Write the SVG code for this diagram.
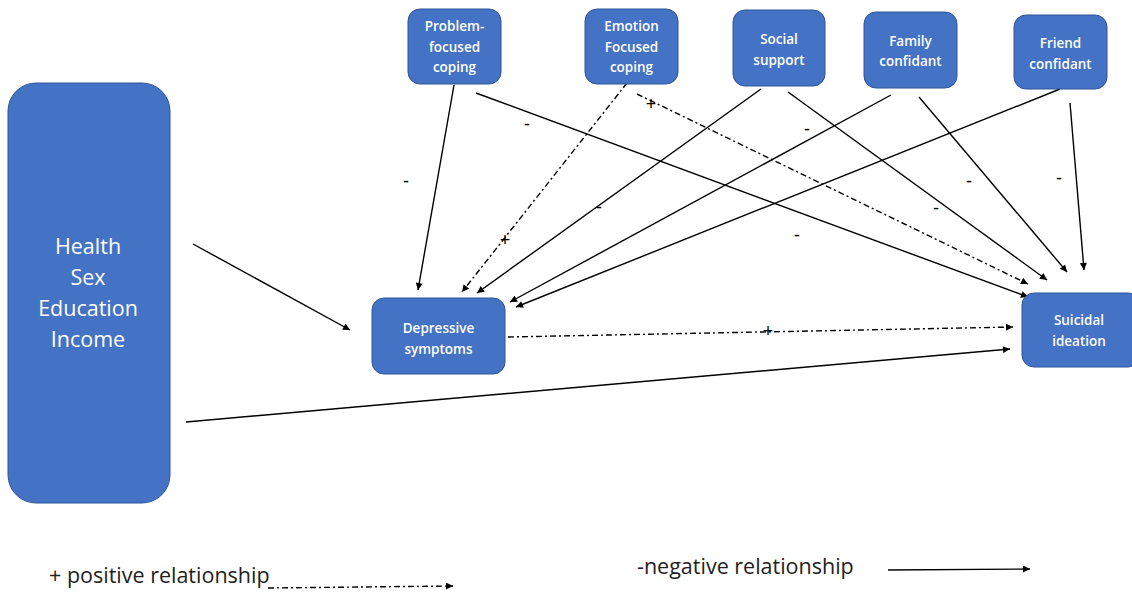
<svg xmlns="http://www.w3.org/2000/svg" width="1132" height="593" viewBox="0 0 1132 593">
  <style>
    .box { fill: #4472C4; stroke: #2F5597; stroke-width: 1; }
    .lbl { font-family: "Open Sans", "Noto Sans", sans-serif; font-size: 13.5px; font-weight: 600; fill: #FFFFFF; text-anchor: middle; }
    .big { font-family: "Open Sans", "Noto Sans", sans-serif; font-size: 21.5px; fill: #FFFFFF; text-anchor: middle; }
    .solid { fill: none; stroke: #000000; stroke-width: 1.4; marker-end: url(#arr); }
    .dashdot { fill: none; stroke: #000000; stroke-width: 1.4; stroke-dasharray: 6 3 2 3; marker-end: url(#arr); }
    .sign { font-family: "Liberation Sans", Arial, sans-serif; font-size: 18px; fill: #000000; text-anchor: middle; }
    .legend { font-family: "Open Sans", "Noto Sans", sans-serif; font-size: 21.5px; fill: #222222; }
  </style>
  <defs>
    <marker id="arr" viewBox="0 0 10 10" refX="10" refY="5" markerWidth="8" markerHeight="7" markerUnits="userSpaceOnUse" orient="auto">
      <path d="M0,0 L10,5 L0,10 z" fill="#000000"/>
    </marker>
  </defs>

  <!-- connectors -->
  <g id="connectors">
    <line class="solid" x1="454" y1="85" x2="418" y2="290"/>
    <line class="solid" x1="476" y1="93" x2="1028" y2="297"/>
    <line class="dashdot" x1="627" y1="83" x2="462" y2="292"/>
    <line class="dashdot" x1="637" y1="94" x2="1028" y2="284"/>
    <line class="solid" x1="761" y1="89" x2="477" y2="293"/>
    <line class="solid" x1="788" y1="92" x2="1047" y2="280"/>
    <line class="solid" x1="891" y1="95" x2="510" y2="302"/>
    <line class="solid" x1="919" y1="97" x2="1067" y2="272"/>
    <line class="solid" x1="1060" y1="89" x2="516" y2="307"/>
    <line class="solid" x1="1070" y1="103" x2="1084" y2="270"/>
    <line class="dashdot" x1="508" y1="337" x2="1013" y2="327"/>
    <line class="solid" x1="193" y1="244" x2="350" y2="330"/>
    <line class="solid" x1="186" y1="422" x2="1010" y2="349"/>

    <!-- relationship signs -->
    <text class="sign" x="406" y="187">-</text>
    <text class="sign" x="527" y="130">-</text>
    <text class="sign" x="599" y="213">-</text>
    <text class="sign" x="505" y="246">+</text>
    <text class="sign" x="651" y="110">+</text>
    <text class="sign" x="807" y="135">-</text>
    <text class="sign" x="969" y="187">-</text>
    <text class="sign" x="1059" y="184">-</text>
    <text class="sign" x="936" y="214">-</text>
    <text class="sign" x="797" y="241">-</text>
    <text class="sign" x="768" y="337">+</text>
  </g>

  <!-- nodes -->
  <g id="covariates">
    <rect class="box" x="8" y="83" width="162" height="420" rx="28" ry="28"/>
    <text class="big" x="88" y="254">Health</text>
    <text class="big" x="88" y="285">Sex</text>
    <text class="big" x="88" y="316">Education</text>
    <text class="big" x="88" y="347">Income</text>
  </g>

  <g id="problem-focused">
    <rect class="box" x="408" y="9" width="93" height="75" rx="12" ry="12"/>
    <text class="lbl" x="454.5" y="31">Problem-</text>
    <text class="lbl" x="454.5" y="52">focused</text>
    <text class="lbl" x="454.5" y="72">coping</text>
  </g>

  <g id="emotion-focused">
    <rect class="box" x="585" y="9" width="93" height="75" rx="12" ry="12"/>
    <text class="lbl" x="631.5" y="31">Emotion</text>
    <text class="lbl" x="631.5" y="52">Focused</text>
    <text class="lbl" x="631.5" y="72">coping</text>
  </g>

  <g id="social-support">
    <rect class="box" x="733" y="10" width="92" height="76" rx="12" ry="12"/>
    <text class="lbl" x="779" y="44">Social</text>
    <text class="lbl" x="779" y="65">support</text>
  </g>

  <g id="family-confidant">
    <rect class="box" x="864" y="12" width="93" height="76" rx="12" ry="12"/>
    <text class="lbl" x="910.5" y="46">Family</text>
    <text class="lbl" x="910.5" y="66">confidant</text>
  </g>

  <g id="friend-confidant">
    <rect class="box" x="1014" y="15" width="93" height="74" rx="12" ry="12"/>
    <text class="lbl" x="1060.5" y="48">Friend</text>
    <text class="lbl" x="1060.5" y="69">confidant</text>
  </g>

  <g id="depressive-symptoms">
    <rect class="box" x="372" y="298" width="133" height="76" rx="12" ry="12"/>
    <text class="lbl" x="438.5" y="333">Depressive</text>
    <text class="lbl" x="438.5" y="354">symptoms</text>
  </g>

  <g id="suicidal-ideation">
    <rect class="box" x="1022" y="293" width="118" height="74" rx="12" ry="12"/>
    <text class="lbl" x="1079" y="325">Suicidal</text>
    <text class="lbl" x="1079" y="346">ideation</text>
  </g>

  <!-- legend -->
  <g id="legend">
    <text class="legend" x="49" y="583">+ positive relationship</text>
    <line class="dashdot" x1="268" y1="588" x2="453" y2="586"/>
    <text class="legend" x="637" y="574">-negative relationship</text>
    <line class="solid" x1="888" y1="570" x2="1030" y2="569"/>
  </g>
</svg>
